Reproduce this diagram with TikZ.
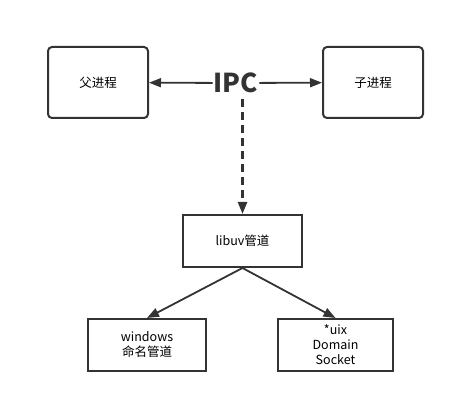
\documentclass[tikz,border=0pt]{standalone}
\usepackage{fontspec}
\setmainfont{Noto Sans CJK SC}
\usetikzlibrary{arrows.meta,positioning}
\definecolor{linegray}{HTML}{333333}

\begin{document}
\begin{tikzpicture}[x=1pt, y=-1pt,
    procbox/.style={draw=linegray, line width=2pt, rounded corners=4pt,
        minimum width=100pt, minimum height=71pt, font=\fontsize{12.5}{14}\selectfont},
    pipebox/.style={draw=linegray, line width=2pt,
        minimum height=52pt, align=center, font=\fontsize{12.5}{15}\selectfont},
    link/.style={draw=linegray, line width=1.8pt, -{Triangle[length=12pt, width=9pt]}}]
    \useasboundingbox (0,0) rectangle (455,403);
    % processes
    \node[procbox] (parent) at (98,82.5) {父进程};
    \node[procbox] (child) at (373,82.5) {子进程};
    \node[font=\fontsize{26}{26}\selectfont\bfseries, text=linegray, inner sep=1pt] (ipc) at (236,83) {IPC};
    \draw[link] (ipc) -- (parent);
    \draw[link] (ipc) -- (child);
    % libuv pipe
    \node[pipebox, minimum width=119pt] (libuv) at (242.5,241) {libuv管道};
    \draw[link, line width=2.4pt, dash pattern=on 8pt off 5pt] (ipc.south -| libuv.north) ++(0,5) -- (libuv.north);
    % platform pipes
    \node[pipebox, minimum width=118pt] (win) at (147,345) {windows\\命名管道};
    \node[pipebox, minimum width=115pt] (unix) at (335.5,345) {*uix\\Domain\\Socket};
    \draw[link] (libuv.south) -- (win.north);
    \draw[link] (libuv.south) -- (unix.north);
\end{tikzpicture}
\end{document}
